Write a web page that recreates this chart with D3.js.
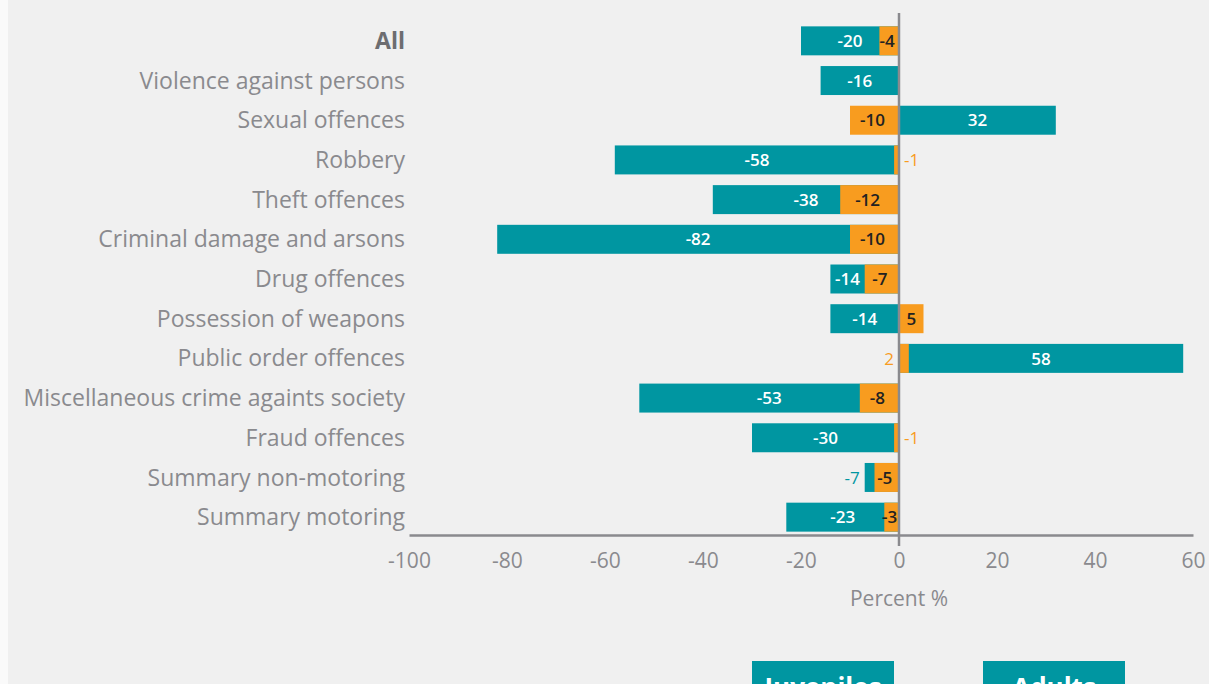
<!DOCTYPE html>
<html>
<head>
<meta charset="utf-8">
<script src="https://cdn.jsdelivr.net/npm/d3@7"></script>
<style>
  html, body { margin: 0; padding: 0; background: #fafafa; }
  svg { display: block; }
</style>
</head>
<body>
<div class="board"></div>
<script>
(function() {

  var categories = [
    'All',
    'Violence against persons',
    'Sexual offences',
    'Robbery',
    'Theft offences',
    'Criminal damage and arsons',
    'Drug offences',
    'Possession of weapons',
    'Public order offences',
    'Miscellaneous crime againts society',
    'Fraud offences',
    'Summary non-motoring',
    'Summary motoring'
  ];

  var juveniles = [-20, -16, 32, -58, -38, -82, -14, -14, 58, -53, -30, -7, -23];
  var adults = [-4, null, -10, -1, -12, -10, -7, 5, 2, -8, -1, -5, -3];

  var xTicks = [-100, -80, -60, -40, -20, 0, 20, 40, 60];
  var legendLabels = ['Juveniles', 'Adults'];

  var teal = '#0096a1';
  var orange = '#f89c1f';
  var grey = '#8a8a8e';
  var font = '"Open Sans", "Noto Sans", sans-serif';

  var rows = categories.map(function(c, i) {
    return { name: c, juv: juveniles[i], adu: adults[i] };
  });

  var width = 1209, height = 684;

  var svg = d3.select('.board')
    .append('svg')
    .attr('width', width)
    .attr('height', height);

  // panel
  svg.append('rect')
    .attr('x', 8).attr('y', 0)
    .attr('width', width - 8).attr('height', height)
    .style('fill', '#f0f0f0');

  var x = d3.scaleLinear().domain([-100, 60]).range([409, 1193]);
  var y = d3.scaleBand().domain(categories).range([21, 537])
    .paddingInner(0.27).paddingOuter(0.135);

  // juvenile bars
  svg.selectAll('rect.juv')
    .data(rows)
    .enter()
    .append('rect')
    .attr('class', 'juv')
    .attr('x', function(d) { return Math.min(x(0), x(d.juv)); })
    .attr('y', function(d) { return y(d.name); })
    .attr('width', function(d) { return Math.abs(x(d.juv) - x(0)); })
    .attr('height', y.bandwidth())
    .style('fill', teal);

  // adult bars drawn on top
  var aduRows = rows.filter(function(d) { return d.adu !== null; });

  svg.selectAll('rect.adu')
    .data(aduRows)
    .enter()
    .append('rect')
    .attr('class', 'adu')
    .attr('x', function(d) { return Math.min(x(0), x(d.adu)); })
    .attr('y', function(d) { return y(d.name); })
    .attr('width', function(d) { return Math.abs(x(d.adu) - x(0)); })
    .attr('height', y.bandwidth())
    .style('fill', orange);

  // axis line
  var xAxis = d3.axisBottom(x)
    .tickValues(xTicks)
    .tickSize(0)
    .tickPadding(18)
    .tickFormat(d3.format('d'));

  var axisG = svg.append('g')
    .attr('transform', 'translate(0,535)')
    .call(xAxis);

  axisG.select('.domain')
    .attr('stroke', grey)
    .attr('stroke-width', 2.5);

  axisG.selectAll('text')
    .style('font-family', font)
    .style('font-size', '21px')
    .style('fill', grey)
    .text(function(d) { return d < 0 ? '-' + Math.abs(d) : d; });

  // zero line
  svg.append('line')
    .attr('x1', x(0)).attr('x2', x(0))
    .attr('y1', 13).attr('y2', 546)
    .style('stroke', grey)
    .style('stroke-width', 2.5);

  // category labels
  svg.selectAll('text.cat')
    .data(rows)
    .enter()
    .append('text')
    .attr('class', 'cat')
    .attr('x', 405)
    .attr('y', function(d) { return y(d.name) + y.bandwidth() / 2; })
    .attr('dy', '0.35em')
    .text(function(d) { return d.name; })
    .style('font-family', font)
    .style('font-size', '23px')
    .style('font-weight', function(d, i) { return i === 0 ? 700 : 400; })
    .style('fill', function(d, i) { return i === 0 ? '#6d6d70' : grey; })
    .style('text-anchor', 'end');

  function fmt(v) { return v < 0 ? '-' + Math.abs(v) : '' + v; }

  function juvVisible(d) {
    var a = d.adu || 0;
    return Math.abs(d.juv) - (a * d.juv > 0 ? Math.abs(a) : 0);
  }

  // juvenile value labels
  svg.selectAll('text.juvLab')
    .data(rows)
    .enter()
    .append('text')
    .attr('class', 'juvLab')
    .attr('x', function(d) {
      var a = d.adu || 0;
      if (juvVisible(d) < 5) return x(d.juv) - 5;
      var mid = d.juv / 2;
      if (a * d.juv > 0 && Math.abs(mid) <= Math.abs(a)) mid = (d.juv + a) / 2;
      return x(mid);
    })
    .attr('y', function(d) { return y(d.name) + y.bandwidth() / 2; })
    .attr('dy', '0.36em')
    .text(function(d) { return fmt(d.juv); })
    .style('font-family', font)
    .style('font-size', '17px')
    .style('font-weight', function(d) { return juvVisible(d) < 5 ? 400 : 600; })
    .style('fill', function(d) { return juvVisible(d) < 5 ? teal : '#ffffff'; })
    .style('text-anchor', function(d) { return juvVisible(d) < 5 ? 'end' : 'middle'; });

  // adult value labels
  svg.selectAll('text.aduLab')
    .data(aduRows)
    .enter()
    .append('text')
    .attr('class', 'aduLab')
    .attr('x', function(d) {
      if (Math.abs(d.adu) < 3) return d.juv < 0 ? x(0) + 5 : x(0) - 5;
      return x(d.adu / 2) - (d.adu < 0 ? 2 : 0);
    })
    .attr('y', function(d) { return y(d.name) + y.bandwidth() / 2; })
    .attr('dy', '0.36em')
    .text(function(d) { return fmt(d.adu); })
    .style('font-family', font)
    .style('font-size', '17px')
    .style('font-weight', function(d) { return Math.abs(d.adu) < 3 ? 400 : 600; })
    .style('fill', function(d) { return Math.abs(d.adu) < 3 ? orange : '#222222'; })
    .style('text-anchor', function(d) {
      if (Math.abs(d.adu) < 3) return d.juv < 0 ? 'start' : 'end';
      return 'middle';
    });

  // axis title
  svg.append('text')
    .attr('x', x(0))
    .attr('y', 606)
    .text('Percent %')
    .style('font-family', font)
    .style('font-size', '21px')
    .style('fill', grey)
    .style('text-anchor', 'middle');

  // legend buttons (cut off at the bottom, as in the source)
  var legend = svg.selectAll('g.leg')
    .data(legendLabels)
    .enter()
    .append('g')
    .attr('class', 'leg')
    .attr('transform', function(d, i) { return 'translate(' + (752 + i * 231) + ',661)'; });

  legend.append('rect')
    .attr('width', 142)
    .attr('height', 40)
    .style('fill', teal);

  legend.append('text')
    .attr('x', 71)
    .attr('y', 36)
    .text(function(d) { return d; })
    .style('font-family', font)
    .style('font-size', '26px')
    .style('font-weight', 700)
    .style('fill', '#ffffff')
    .style('text-anchor', 'middle');

})();
</script>
</body>
</html>
